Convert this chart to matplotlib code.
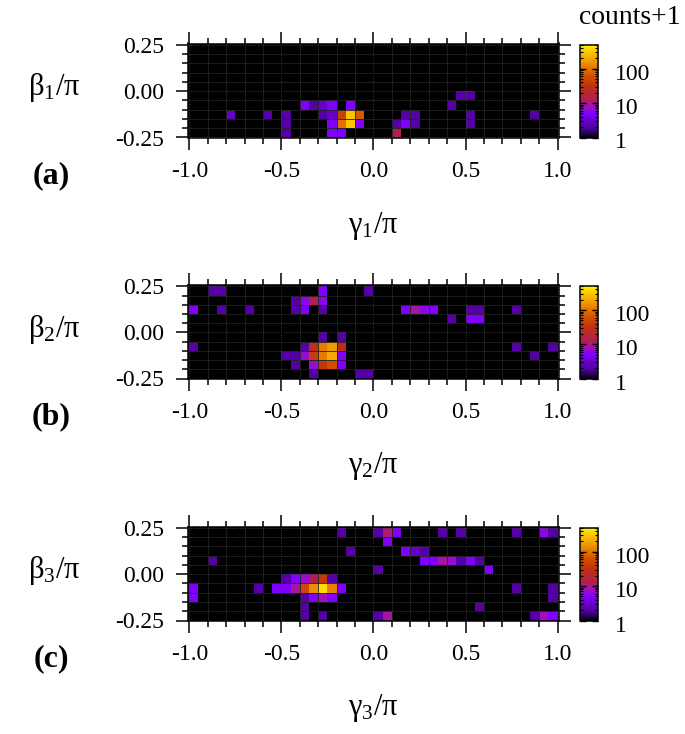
#!/usr/bin/python
import matplotlib
matplotlib.use('Agg')
import matplotlib.pyplot as plt
import numpy as np
from matplotlib.colors import LinearSegmentedColormap, LogNorm
from matplotlib.ticker import FixedLocator, NullFormatter
from matplotlib.transforms import ScaledTranslation

plt.rcParams['font.family'] = ['Liberation Serif', 'DejaVu Serif']
plt.rcParams['mathtext.fontset'] = 'custom'
plt.rcParams['mathtext.rm'] = 'Liberation Serif'
plt.rcParams['mathtext.default'] = 'rm'

W, H = 685.0, 734.0

# counts+1, row 0 is the top row (beta = 0.25)
rows_a = [5, 5, 6, 6, 6, 6, 6, 6, 7, 7, 7, 7, 7, 7, 7, 7, 7, 7, 7, 7,
          8, 8, 8, 8, 8, 8, 8, 8, 8, 9, 9, 9, 9]
cols_a = [29, 30, 12, 13, 14, 15, 17, 28, 4, 8, 10, 14, 15, 16, 17, 18, 23, 24, 30, 37,
          10, 15, 16, 17, 18, 22, 23, 24, 30, 10, 15, 16, 22]
vals_a = [2, 2, 5, 2, 3, 5, 5, 2, 3, 2, 2, 2, 3, 45, 300, 70, 2, 2, 2, 2,
          2, 5, 100, 300, 5, 2, 5, 2, 2, 2, 5, 5, 13]

rows_b = [0, 0, 0, 0, 1, 1, 1, 1,
          2, 2, 2, 2, 2, 2, 2, 2, 2, 2, 2, 2, 2,
          3, 3, 3, 5, 5,
          6, 6, 6, 6, 6, 6, 6, 6,
          7, 7, 7, 7, 7, 7, 7, 7,
          8, 8, 8, 8, 8, 9, 9, 9]
cols_b = [2, 3, 14, 19, 11, 12, 13, 14,
          0, 3, 6, 11, 12, 14, 23, 24, 25, 26, 30, 31, 35,
          28, 30, 31, 14, 16,
          0, 12, 13, 14, 15, 16, 35, 39,
          10, 11, 12, 13, 14, 15, 16, 37,
          11, 13, 14, 15, 16, 13, 18, 19]
vals_b = [2, 2, 5, 2, 2, 6, 13, 6,
          5, 2, 2, 2, 5, 2, 5, 9, 6, 5, 2, 2, 2,
          2, 5, 5, 2, 2,
          2, 2, 25, 110, 170, 25, 2, 2,
          2, 2, 7, 40, 110, 200, 5, 2,
          2, 7, 35, 60, 5, 2, 2, 2]

rows_c = [0, 0, 0, 0, 0, 0, 0, 0, 0, 1,
          2, 2, 2, 2,
          3, 3, 3, 3, 3, 3, 3, 3, 4, 4,
          5, 5, 5, 5, 5, 5,
          6, 6, 6, 6, 6, 6, 6, 6, 6, 6, 6, 6,
          7, 7, 7, 7, 7, 7,
          8, 8, 9, 9, 9, 9, 9, 9, 9]
cols_c = [16, 20, 21, 22, 27, 29, 35, 38, 39, 21,
          17, 23, 24, 25,
          2, 25, 26, 27, 28, 29, 30, 31, 20, 32,
          10, 11, 12, 13, 14, 15,
          0, 7, 9, 10, 11, 12, 13, 14, 15, 16, 35, 39,
          0, 12, 13, 14, 15, 39,
          12, 31, 12, 14, 20, 21, 37, 38, 39]
vals_c = [2, 2, 11, 5, 2, 2, 2, 6, 2, 5,
          2, 5, 3, 2,
          2, 5, 5, 9, 7, 2, 5, 2, 2, 5,
          2, 5, 7, 13, 35, 2,
          5, 2, 5, 5, 9, 50, 140, 400, 120, 5, 2, 2,
          5, 2, 5, 8, 5, 2,
          2, 2, 2, 2, 2, 9, 2, 8, 5]

panels = [('a', rows_a, cols_a, vals_a, 43.5, 137.5),
          ('b', rows_b, cols_b, vals_b, 285.0, 378.5),
          ('c', rows_c, cols_c, vals_c, 526.5, 620.5)]

x_edges = np.linspace(-1.0, 1.0, 41)
y_edges = np.linspace(0.25, -0.25, 11)

palette = LinearSegmentedColormap.from_list('counts', [
    (0.00, '#000000'), (0.05, '#2a0060'), (0.11, '#5500a5'), (0.18, '#6600c8'),
    (0.26, '#8000ff'), (0.33, '#a010c0'), (0.41, '#b0204f'), (0.55, '#c03010'),
    (0.66, '#d05000'), (0.77, '#e88000'), (0.85, '#f0a800'), (0.96, '#ffd800'),
    (1.00, '#ffff00')])
norm = LogNorm(vmin=1, vmax=500)


def box(x0, x1, y0, y1):
    return [x0 / W, 1 - y1 / H, (x1 - x0) / W, (y1 - y0) / H]


def draw_panel(fig, name, rows, cols, vals, top, bottom):
    ax = fig.add_axes(box(188.0, 559.3, top, bottom))
    grid = np.ones((10, 40))
    grid[rows, cols] = vals
    ax.set_facecolor('black')
    mesh = ax.pcolormesh(x_edges, y_edges, grid, cmap=palette, norm=norm, zorder=1)
    ax.set_xlim(-1.007, 1.0087)
    ax.set_ylim(-0.25, 0.257)

    ax.set_xticks([-1.0, -0.5, 0.0, 0.5, 1.0])
    ax.set_xticklabels(['-1.0', '-0.5', '0.0', '0.5', '1.0'])
    ax.xaxis.set_minor_locator(FixedLocator(np.arange(-10, 11) / 10))
    ax.set_yticks([-0.25, 0.0, 0.25])
    ax.set_yticklabels(['-0.25', '0.00', '0.25'])
    ax.yaxis.set_minor_locator(FixedLocator(np.arange(-5, 6) / 20))
    ax.tick_params(which='major', direction='out', length=8.4, width=1.1, top=True, right=True,
                   labelsize=17)
    ax.tick_params(which='minor', direction='out', length=4.2, width=1.1, top=True, right=True)
    ax.tick_params(axis='x', which='major', pad=8.6)
    ax.tick_params(axis='y', which='major', pad=8.6)

    # faint grid over the cells, dotted on the major positions
    ax.grid(which='minor', color='#222222', linewidth=0.6, zorder=2)
    ax.grid(which='major', color='#3a3a3a', linewidth=0.7, linestyle=':', zorder=2)
    ax.set_axisbelow(False)
    for spine in ax.spines.values():
        spine.set_linewidth(1.1)

    num = 'abc'.index(name) + 1
    fig.text(54 / W, 1 - (top + 44) / H, 'β$_%d$/π' % num, fontsize=22,
             ha='center', va='center')
    fig.text(373 / W, 1 - (bottom + 88) / H, 'γ$_%d$/π' % num, fontsize=22,
             ha='center', va='center')
    fig.text(51 / W, 1 - (bottom + 38) / H, '(%s)' % name, fontsize=23, fontweight='bold',
             ha='center', va='center')

    cax = fig.add_axes(box(579.5, 598, top + 1, bottom))
    cb = fig.colorbar(mesh, cax=cax)
    cb.set_ticks([1, 10, 100])
    cb.set_ticklabels(['1', '10', '100'])
    cb.ax.yaxis.set_minor_formatter(NullFormatter())
    cb.ax.tick_params(which='major', direction='in', length=4.5, width=1, left=True, right=True,
                      labelsize=17, pad=12)
    cb.ax.tick_params(which='minor', direction='in', length=2.5, width=0.8, left=True, right=True)
    cb.outline.set_linewidth(1.1)
    # labels sit a little under their ticks
    shift = ScaledTranslation(0, -3 / 100, fig.dpi_scale_trans)
    for label in cb.ax.get_yticklabels():
        label.set_transform(label.get_transform() + shift)
    return ax


def main():
    fig = plt.figure(figsize=(6.85, 7.34), dpi=100)
    for name, rows, cols, vals, top, bottom in panels:
        draw_panel(fig, name, rows, cols, vals, top, bottom)
    fig.text(630 / W, 1 - 17 / H, 'counts+1', fontsize=20, ha='center', va='center')
    fig.savefig('out.png', dpi=100)


if __name__ == '__main__':
    main()
